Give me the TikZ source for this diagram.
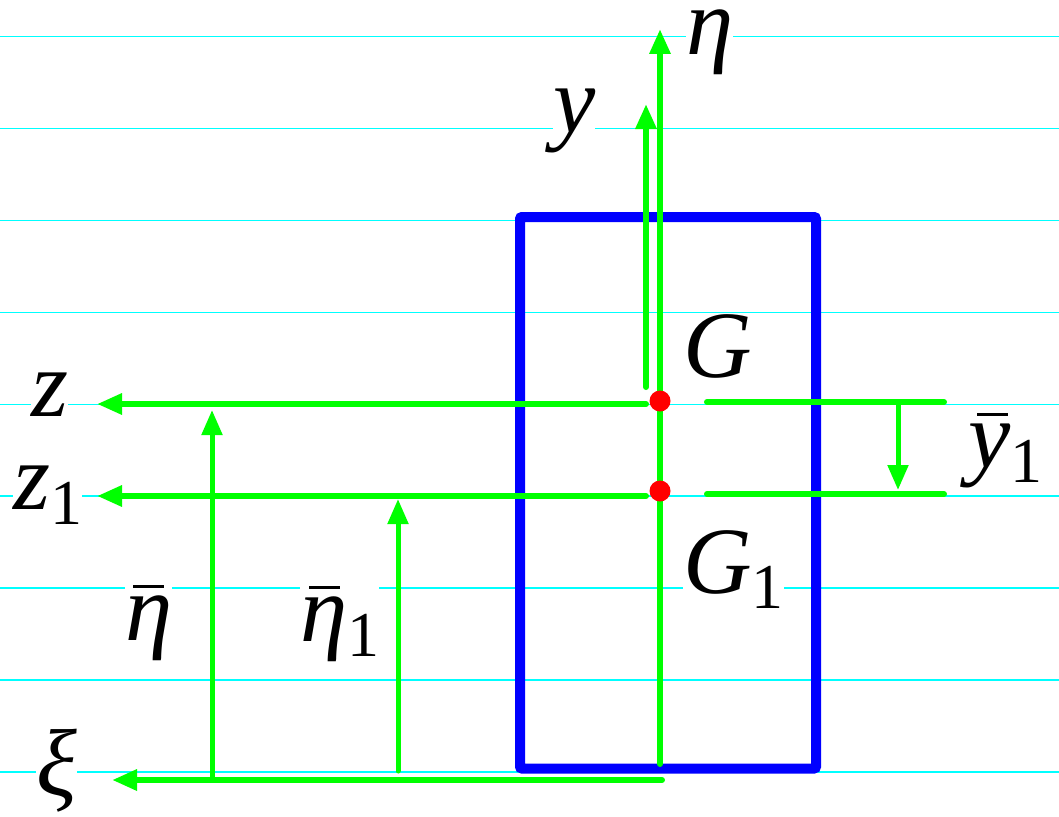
\documentclass[tikz,border=0pt]{standalone}
\usepackage{fontspec}
\setmainfont{Liberation Serif}
\usetikzlibrary{arrows.meta}
\definecolor{gridcyan}{RGB}{0,255,255}
\definecolor{axgreen}{RGB}{0,255,0}
\definecolor{boxblue}{RGB}{0,0,255}
\definecolor{dotred}{RGB}{255,0,0}
\newcommand\labfont{\fontsize{95}{100}\selectfont\itshape}
\newcommand\subone{\raisebox{-15pt}{\fontsize{64}{70}\selectfont\upshape 1}}
\newcommand\barover[3]{\leavevmode\rlap{\hspace{#2}\raisebox{#3}{\rule{31pt}{3pt}}}#1}
\begin{document}
\begin{tikzpicture}[x=1pt,y=-1pt,
  gridline/.style={gridcyan,line width=1.5pt},
  axis/.style={axgreen,line width=6pt,line cap=round,-{Triangle[length=25pt,width=20pt]}},
  plain/.style={axgreen,line width=6pt,line cap=round},
  thin/.style={axgreen,line width=5pt,line cap=round,-{Triangle[length=25pt,width=20pt]}},
  dot/.style={circle,fill=dotred,inner sep=0pt,minimum size=21pt},
  lab/.style={fill=white,inner sep=0pt,anchor=base west,font=\labfont}]
\useasboundingbox (0,0) rectangle (1059,816);
% cyan ruled lines
\foreach \k in {0,...,8}{
  \draw[gridline] (0,{36.7+91.9*\k}) -- (1059,{36.7+91.9*\k});
}
% blue section
\draw[boxblue,line width=10pt,rounded corners=2pt] (520,217) rectangle (816,768.5);
% coordinates
\coordinate (etaB) at (660,764);
\coordinate (etaT) at (660,29);
\coordinate (yB) at (646,387);
\coordinate (yT) at (646,104);
\coordinate (zR) at (646,404);
\coordinate (zL) at (97,404);
\coordinate (z1R) at (646,496);
\coordinate (z1L) at (97,496);
\coordinate (xiR) at (662,780);
\coordinate (xiL) at (112,780);
\coordinate (ebB) at (212,780);
\coordinate (ebT) at (212,410);
\coordinate (eb1B) at (398,771);
\coordinate (eb1T) at (398,499);
\coordinate (r1L) at (707,402);
\coordinate (r1R) at (944,402);
\coordinate (r2L) at (707,494);
\coordinate (r2R) at (944,494);
\coordinate (ybT) at (898,402);
\coordinate (ybB) at (898,490);
% axes
\draw[axis] (etaB) -- (etaT);
\draw[axis] (yB) -- (yT);
\draw[axis] (zR) -- (zL);
\draw[axis] (z1R) -- (z1L);
\draw[axis] (xiR) -- (xiL);
\draw[thin] (ebB) -- (ebT);
\draw[thin] (eb1B) -- (eb1T);
\draw[plain] (r1L) -- (r1R);
\draw[plain] (r2L) -- (r2R);
\draw[thin] (ybT) -- (ybB);
% centroids
\node[dot] (G) at (660,401) {};
\node[dot] (G1) at (660,491) {};
% labels
\node[lab] (leta) at (686,55) {η};
\node[lab] (ly) at (553,132) {y};
\node[lab] (lG) at (683,377) {G};
\node[lab] (lz) at (31,416) {z};
\node[lab] (lz1) at (13,509) {z\subone};
\node[lab] (lxi) at (36,795) {ξ};
\node[lab] (leb) at (125,640) {\barover{η}{8pt}{52pt}};
\node[lab] (leb1) at (300,641) {\barover{η}{9pt}{52pt}\subone};
\node[lab] (lG1) at (683,593) {G\subone};
\node[lab] (lyb) at (968,467) {\barover{y}{9pt}{51pt}\subone};
\end{tikzpicture}
\end{document}
